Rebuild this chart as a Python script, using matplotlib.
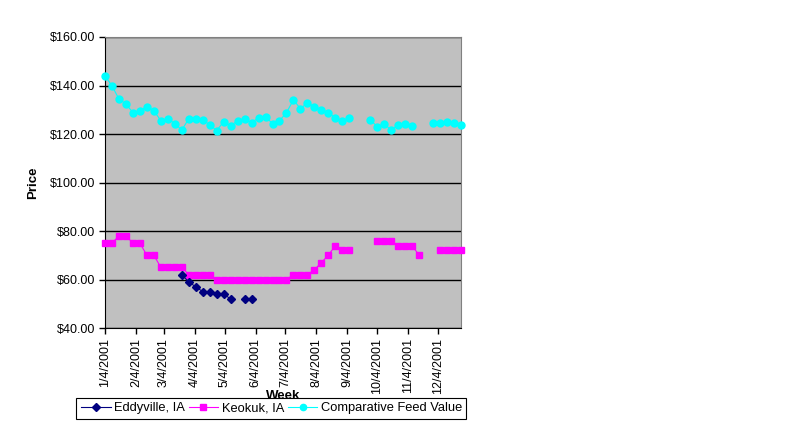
import matplotlib
matplotlib.use("Agg")
import matplotlib.pyplot as plt
import numpy as np
import pandas as pd

nan = np.nan

# weekly observations, 2001
weeks = pd.date_range("2001-01-04", periods=52, freq="7D")

eddyville = [nan] * 11 + [62, 59, 57, 55, 55, 54, 54, 52, nan, 52, 52] + [nan] * 30

keokuk = [75, 75, 78, 78, 75, 75, 70, 70, 65, 65, 65, 65, 62, 62, 62, 62,
          60, 60, 60, 60, 60, 60, 60, 60, 60, 60, 60, 62, 62, 62, 64, 67,
          70, 74, 72, 72, nan, nan, nan, 76, 76, 76, 74, 74, 74, 70, nan, nan,
          72, 72, 72, 72]

feed_value = [144.0, 139.9, 134.4, 132.4, 128.8, 129.6, 131.3, 129.6, 125.5, 126.3,
              124.3, 121.6, 126.3, 126.3, 125.9, 123.8, 121.4, 125.1, 123.4, 125.5,
              126.3, 124.7, 126.7, 127.1, 124.3, 125.5, 128.8, 134.1, 130.4, 132.9,
              131.3, 130.0, 128.8, 126.7, 125.5, 126.7, nan, nan, 125.9, 123.0,
              124.2, 121.6, 123.8, 124.2, 123.4, nan, nan, 124.7, 124.7, 125.1,
              124.7, 123.8]

tick_dates = pd.to_datetime(["2001-01-04", "2001-02-04", "2001-03-04", "2001-04-04",
                             "2001-05-04", "2001-06-04", "2001-07-04", "2001-08-04",
                             "2001-09-04", "2001-10-04", "2001-11-04", "2001-12-04"])
tick_labels = ["1/4/2001", "2/4/2001", "3/4/2001", "4/4/2001", "5/4/2001", "6/4/2001",
               "7/4/2001", "8/4/2001", "9/4/2001", "10/4/2001", "11/4/2001", "12/4/2001"]

plt.rcParams["font.family"] = ["Liberation Sans", "DejaVu Sans"]

fig = plt.figure(figsize=(7.96, 4.41), dpi=100)
ax = fig.add_axes([0.1319, 0.2562, 0.4472, 0.6599])
ax.set_facecolor("#C0C0C0")

ax.plot(weeks, eddyville, color="#000080", marker="D", markersize=4.5, lw=0.8,
        label="Eddyville, IA", clip_on=False, zorder=4)
ax.plot(weeks, keokuk, color="#FF00FF", marker="s", markersize=5, lw=0.8,
        label="Keokuk, IA", clip_on=False, zorder=3)
ax.plot(weeks, feed_value, color="#00FFFF", marker="o", markersize=5, lw=0.8,
        label="Comparative Feed Value", clip_on=False, zorder=3)

ax.set_ylim(40, 160)
ax.set_yticks(np.arange(40, 161, 20))
ax.set_yticklabels(["$%.2f" % v for v in np.arange(40, 161, 20)])
ax.yaxis.grid(True, color="black", lw=1)
ax.set_axisbelow(True)

ax.set_xlim(weeks[0], weeks[-1])
ax.set_xticks(tick_dates)
ax.set_xticklabels(tick_labels, rotation=90)

ax.tick_params(direction="out", length=4, width=1, color="black", labelsize=9, pad=3)
for s in ["top", "right"]:
    ax.spines[s].set_color("#808080")
for s in ["left", "bottom"]:
    ax.spines[s].set_color("black")

ax.set_ylabel("Price", fontsize=9.5, fontweight="bold", labelpad=8)
ax.set_xlabel("Week", fontsize=9.5, fontweight="bold", labelpad=-3)

# legend sits over the lower half of the axis title, as in the original
leg = fig.legend(loc="center", bbox_to_anchor=(0.341, 0.074), ncol=3, fontsize=9.3,
                 frameon=True, fancybox=False, edgecolor="black", framealpha=1,
                 borderpad=0.35, handlelength=2.3, handletextpad=0.25, columnspacing=0.3,
                 markerscale=0.9)
leg.get_frame().set_linewidth(0.8)
leg.set_zorder(10)

fig.savefig("out.png", dpi=100)
